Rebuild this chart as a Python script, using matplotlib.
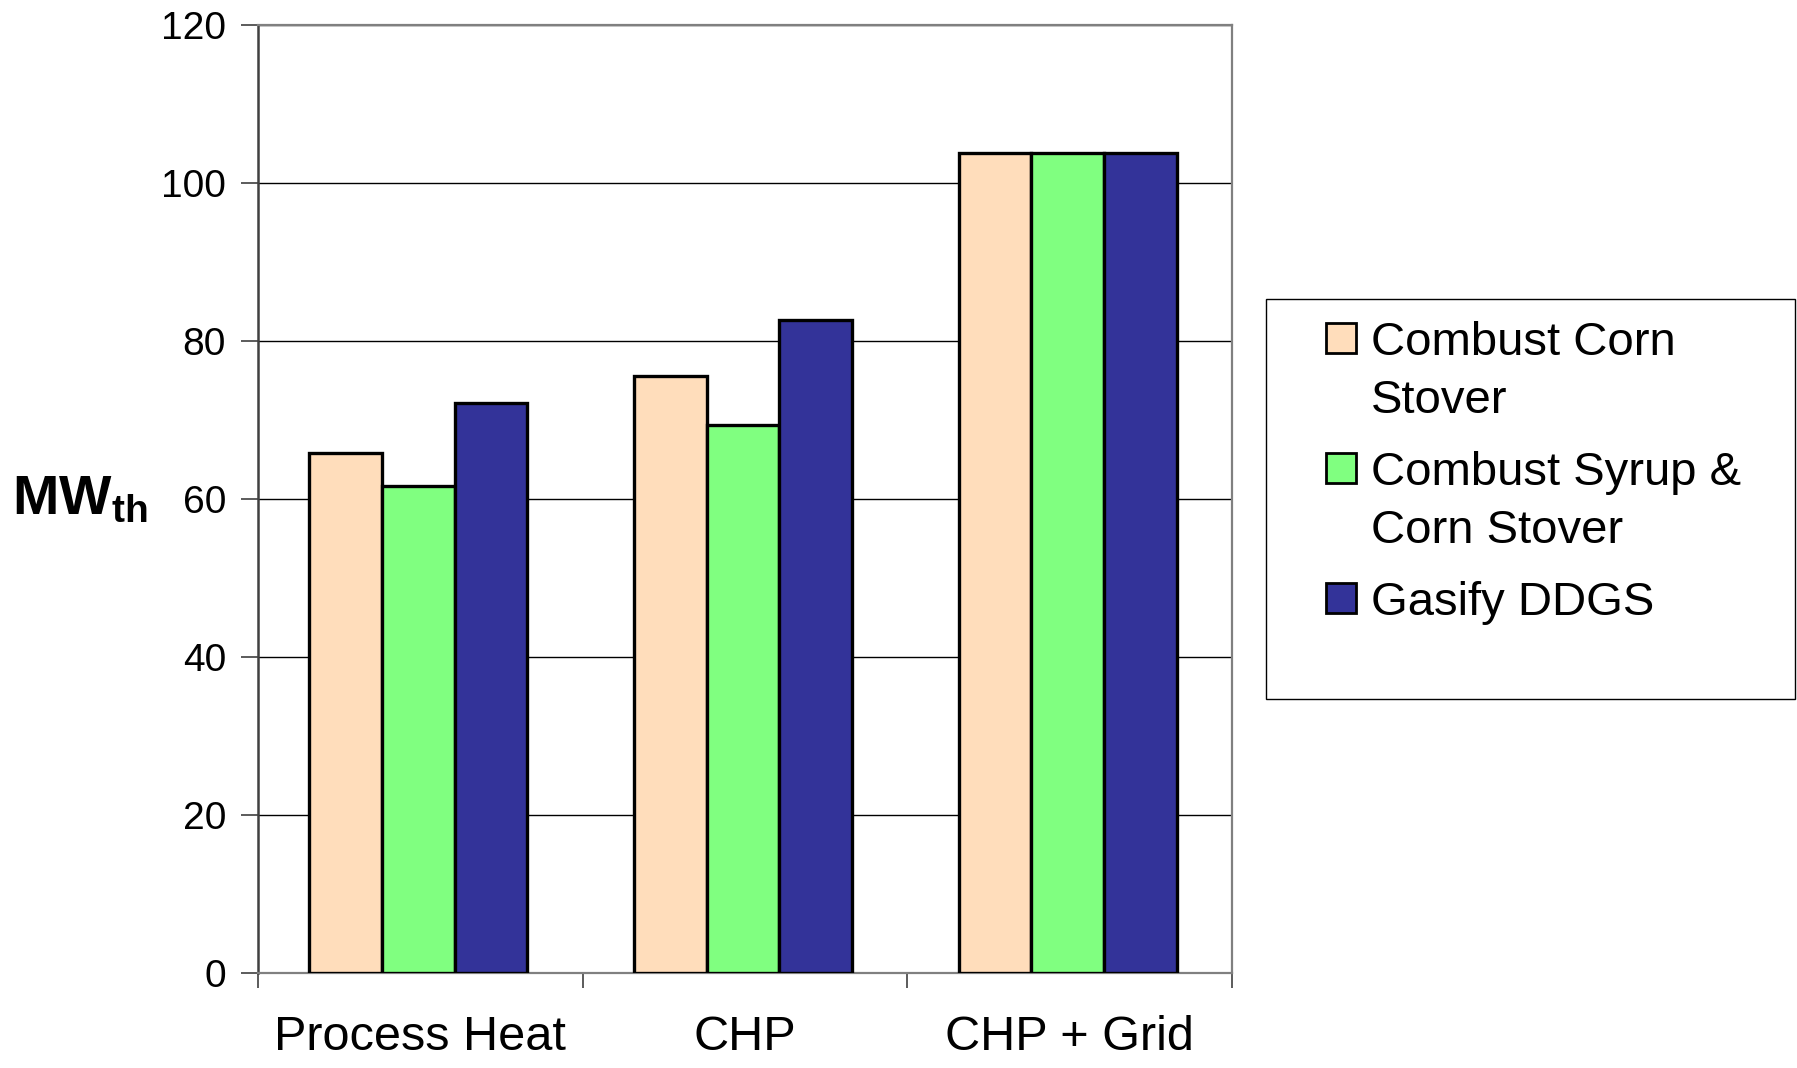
import matplotlib
matplotlib.use("Agg")
import matplotlib.pyplot as plt
import numpy as np
from matplotlib.patches import Rectangle

categories = ["Process Heat", "CHP", "CHP + Grid"]
series_names = ["Combust Corn\nStover", "Combust Syrup &\nCorn Stover", "Gasify DDGS"]
combust_corn_stover = [65.8, 75.6, 103.8]
combust_syrup_stover = [61.6, 69.4, 103.8]
gasify_ddgs = [72.1, 82.7, 103.8]
series_values = [combust_corn_stover, combust_syrup_stover, gasify_ddgs]
colors = ["#FFDDBB", "#80FF80", "#333399"]
yticks = [0, 20, 40, 60, 80, 100, 120]

plt.rcParams['font.family'] = ['Liberation Sans', 'DejaVu Sans']
plt.rcParams['mathtext.fontset'] = 'custom'
plt.rcParams['mathtext.rm'] = 'Liberation Sans'
plt.rcParams['mathtext.bf'] = 'Liberation Sans:bold'

W, H = 1797, 1068
fig = plt.figure(figsize=(W / 100, H / 100), dpi=100)
ax = fig.add_axes([258 / W, 1 - 973 / H, (1232 - 258) / W, (973 - 25) / H])

x = np.arange(len(categories))
bw = 0.224
for i, vals in enumerate(series_values):
    ax.bar(x + (i - 1) * bw - 0.006, vals, width=bw, color=colors[i],
           edgecolor="black", linewidth=2.4, zorder=3)

ax.set_xlim(-0.5, len(categories) - 0.5)
ax.set_ylim(0, 120)
ax.set_yticks(yticks)
ax.set_yticklabels([str(v) for v in yticks], fontsize=28)
ax.yaxis.grid(True, color="black", linewidth=1.0, zorder=0)
ax.tick_params(axis="y", length=12, width=1.2, color="#404040", pad=11)

ax.set_xticks(x)
ax.set_xticklabels(categories, fontsize=35)
ax.set_xticks(np.arange(len(categories) + 1) - 0.5, minor=True)
ax.tick_params(axis="x", which="major", length=0, pad=30)
ax.tick_params(axis="x", which="minor", length=11, width=1.2, color="#404040")

for s in ["top", "right", "bottom"]:
    ax.spines[s].set_color("#808080")
    ax.spines[s].set_linewidth(1.6)
ax.spines["left"].set_color("#404040")
ax.spines["left"].set_linewidth(1.8)

# y label MW_th
fig.text(12 / W, 1 - 500 / H, r"$\mathbf{MW_{th}}$", fontsize=40,
         ha="left", va="center")

# legend (manual)
lx0, ly0, lx1, ly1 = 1266, 299, 1795, 699
fig.patches.append(Rectangle((lx0 / W, 1 - ly1 / H), (lx1 - lx0) / W, (ly1 - ly0) / H,
                             transform=fig.transFigure, facecolor="white",
                             edgecolor="black", linewidth=1.0))
baselines = [355, 485, 615]
line_step = 57.6
for i, name in enumerate(series_names):
    b = baselines[i]
    cy = b - 17
    fig.patches.append(Rectangle((1326 / W, 1 - (cy + 15) / H), 30 / W, 30 / H,
                                 transform=fig.transFigure, facecolor=colors[i],
                                 edgecolor="black", linewidth=2.0))
    for j, line in enumerate(name.split("\n")):
        fig.text(1371 / W, 1 - (b + j * line_step) / H, line, fontsize=34,
                 ha="left", va="baseline")

fig.savefig("out.png", dpi=100)
